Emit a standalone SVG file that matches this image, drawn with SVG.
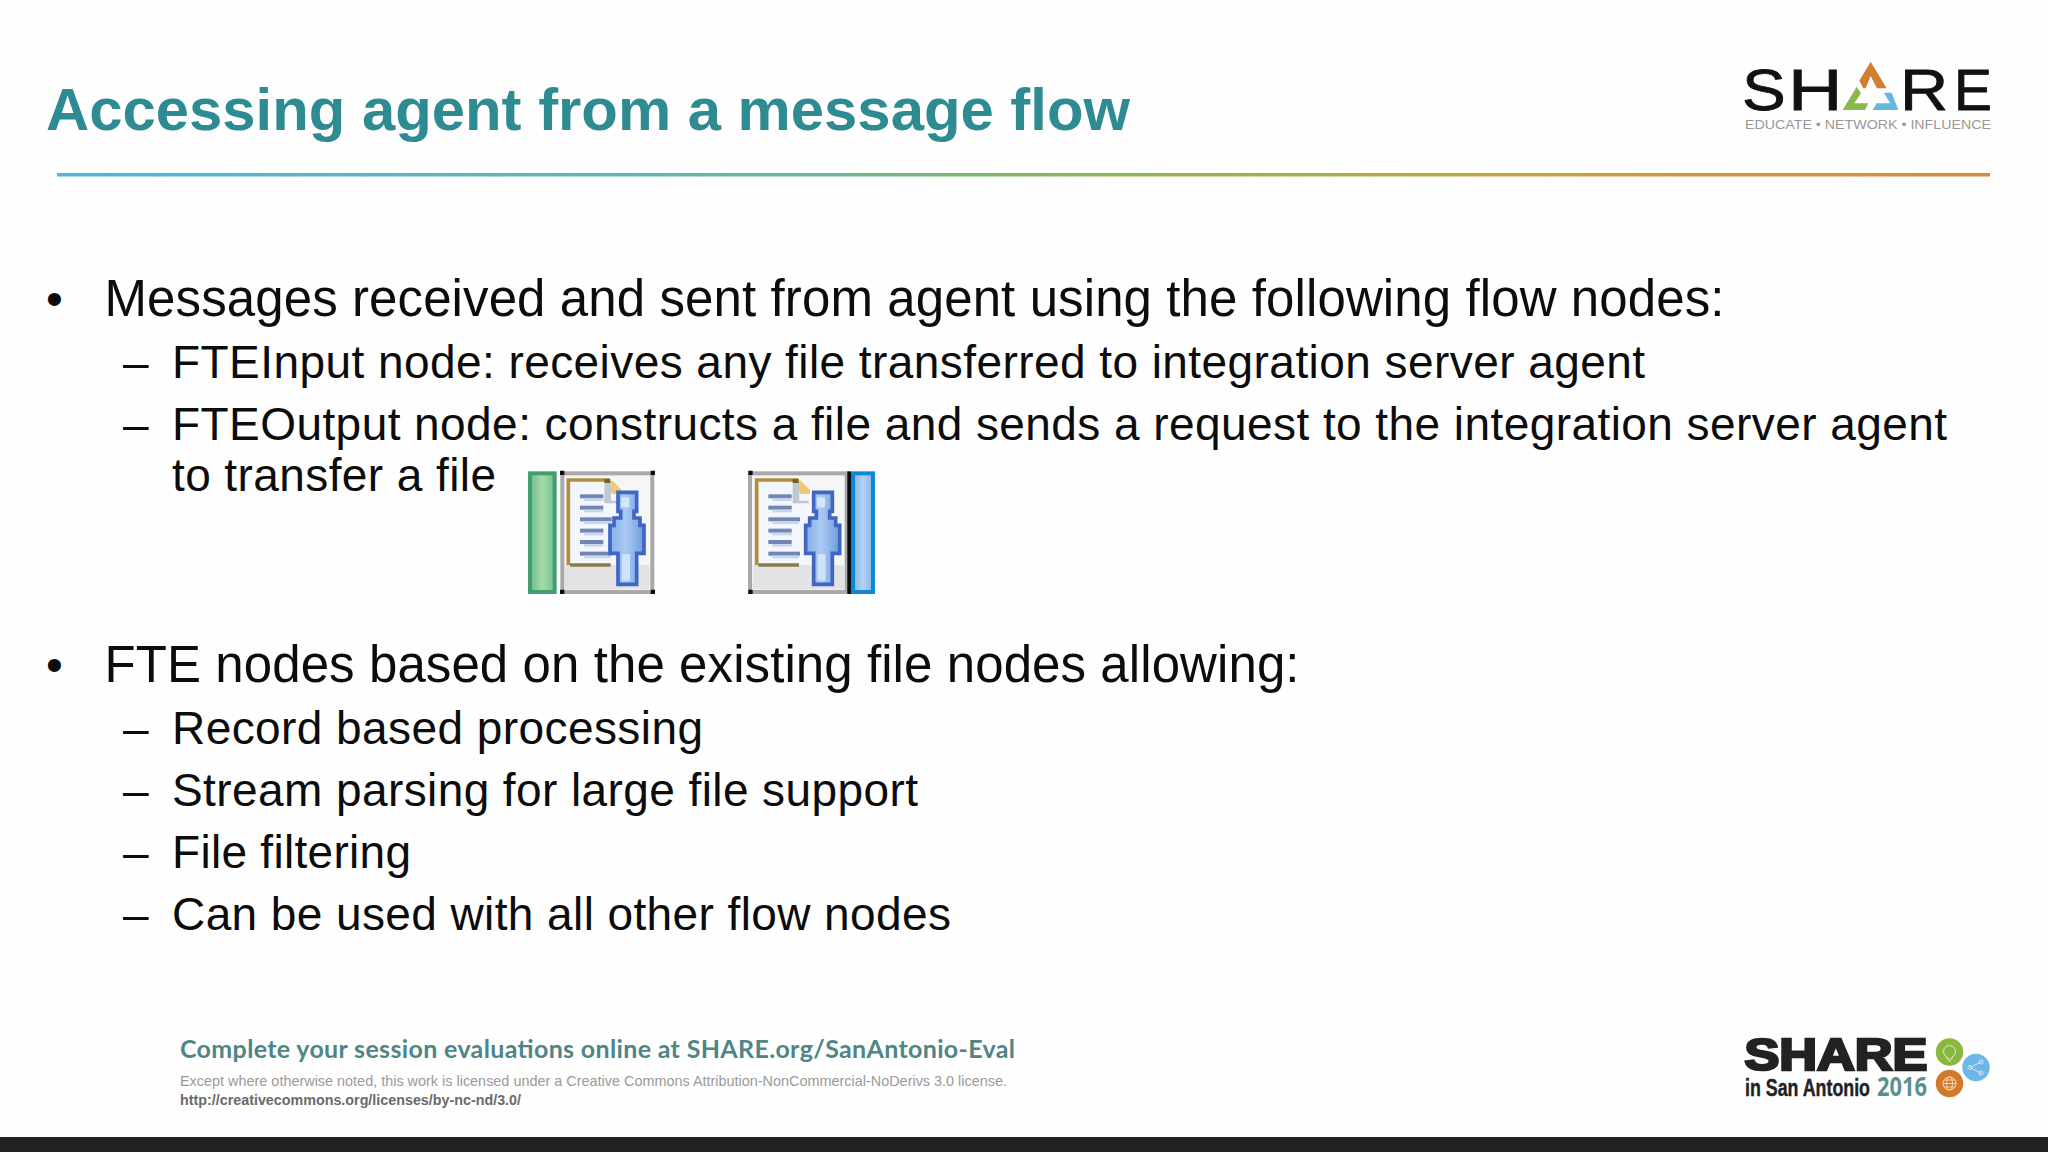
<svg xmlns="http://www.w3.org/2000/svg" width="2048" height="1152" viewBox="0 0 2048 1152">
<style>
text{font-family:"Liberation Sans",Arial,sans-serif}
.t1{font-size:51px;fill:#0c0c0c}
.t2{font-size:46px;fill:#0c0c0c}
.ln{fill:#6f86b4}
.ls{fill:#c9d6ea}
.lg{font-size:58px;fill:#111;stroke:#111;stroke-width:.8px}
</style>
<defs>
<linearGradient id="rule" x1="0" x2="1" y1="0" y2="0">
<stop offset="0" stop-color="#4eb5dc"/><stop offset=".35" stop-color="#62b6a8"/><stop offset=".55" stop-color="#8fb84f"/><stop offset=".75" stop-color="#c4a343"/><stop offset="1" stop-color="#e0873a"/>
</linearGradient>
<linearGradient id="pf" x1="0" x2="1" y1="0" y2="0">
<stop offset="0" stop-color="#86aeea"/><stop offset=".45" stop-color="#a9caf3"/><stop offset="1" stop-color="#6f9ce0"/>
</linearGradient>
<linearGradient id="bar1" x1="0" x2="1" y1="0" y2="0">
<stop offset="0" stop-color="#6cbb8a"/><stop offset=".5" stop-color="#a6dcab"/><stop offset="1" stop-color="#72c08e"/>
</linearGradient>
<linearGradient id="bar2" x1="0" x2="1" y1="0" y2="0">
<stop offset="0" stop-color="#7fb4e8"/><stop offset=".5" stop-color="#b4d3f4"/><stop offset="1" stop-color="#86b6e8"/>
</linearGradient>
<filter id="soft" x="-5%" y="-5%" width="110%" height="110%"><feGaussianBlur stdDeviation=".5"/></filter>
<g id="page">
<path d="M175 90H300L330 120V345H175Z" fill="#f3f6fc"/>
<path d="M175 345V90H300" fill="none" stroke="#b08e3c" stroke-width="11"/>
<path d="M180 345H302" stroke="#8a7a50" stroke-width="10"/>
<path d="M283 92h25l27 28v12h-27z" fill="#f0c878"/>
<path d="M283 87h18v12h-18z" fill="#7a5e28"/>
<path d="M283 100h20v52h28v8h-48z" fill="#c2c8d0"/>
<rect class="ln" x="210" y="133" width="70" height="12"/><rect class="ls" x="222" y="145" width="58" height="8"/>
<rect class="ln" x="210" y="167" width="70" height="12"/><rect class="ls" x="222" y="179" width="58" height="8"/>
<rect class="ln" x="210" y="202" width="95" height="12"/><rect class="ls" x="222" y="214" width="80" height="8"/>
<rect class="ln" x="210" y="236" width="70" height="12"/><rect class="ls" x="222" y="248" width="58" height="8"/>
<rect class="ln" x="210" y="270" width="70" height="12"/><rect class="ls" x="222" y="282" width="58" height="8"/>
<rect class="ln" x="210" y="305" width="95" height="12"/><rect class="ls" x="222" y="317" width="80" height="8"/>
</g>
<g id="person">
<path d="M324 127H380V184H372V204H390V226H402V310H380V403H324V310H300V226H312V204H332V184H324Z" fill="url(#pf)" stroke="#3f66c4" stroke-width="11"/>
<rect x="336" y="312" width="24" height="80" fill="#cfe2f9"/>
<rect x="334" y="142" width="24" height="30" fill="#d6e6fa"/>
</g>
</defs>
<rect width="2048" height="1152" fill="#fefefe"/>

<text x="46" y="130" font-size="60" font-weight="700" fill="#2f8b92" textLength="1084" lengthAdjust="spacingAndGlyphs">Accessing agent from a message flow</text>
<rect x="57" y="173" width="1933" height="3.5" fill="url(#rule)"/>

<g id="logo-top">
<text class="lg" transform="translate(1742,110) scale(1.13,1)">S</text>
<text class="lg" transform="translate(1788,110) scale(1.3,1)">H</text>
<text class="lg" transform="translate(1900,110) scale(1.15,1)">R</text>
<text class="lg" transform="translate(1954,110) scale(.98,1)">E</text>
<g transform="translate(1700,40) scale(.33333)">
<path d="M478 122L512 65L560 145H531L512 108L497 145H490Z" fill="#d17e33"/>
<path d="M428 210L470 140L483 160L463 190H505L495 210Z" fill="#88b94a"/>
<path d="M518 210L530 190H570L552 158H575L595 210Z" fill="#66b7e0"/>
</g>
<text x="1745" y="129" font-size="13" fill="#989898" textLength="246" lengthAdjust="spacingAndGlyphs">EDUCATE • NETWORK • INFLUENCE</text>
</g>

<text x="46" y="315" font-size="48" fill="#0c0c0c">•</text>
<text class="t1" x="104.500" y="316" textLength="1620">Messages received and sent from agent using the following flow nodes:</text>
<text class="t2" x="123" y="378">–</text>
<text class="t2" x="172" y="378" textLength="1473">FTEInput node: receives any file transferred to integration server agent</text>
<text class="t2" x="123" y="440">–</text>
<text class="t2" x="172" y="440" textLength="1775">FTEOutput node: constructs a file and sends a request to the integration server agent</text>
<text class="t2" x="172" y="491" textLength="324">to transfer a file</text>

<g id="fte-input" transform="translate(510,450) scale(.33333)" filter="url(#soft)">
<rect x="60" y="70" width="74" height="356" fill="url(#bar1)" stroke="#3f9e70" stroke-width="12"/>
<rect x="157" y="70" width="270" height="356" fill="#f6f6f7" stroke="#a9a9a9" stroke-width="12"/>
<rect x="165" y="345" width="254" height="73" fill="#e3e3e5"/>
<use href="#page"/>
<use href="#person"/>
<path d="M150 62h13v13h-13zM422 62h13v13h-13zM150 419h13v13h-13zM422 419h13v13h-13z" fill="#111"/>
</g>

<g id="fte-output" transform="translate(730,450) scale(.33333)" filter="url(#soft)">
<rect x="60" y="70" width="290" height="356" fill="#f6f6f7" stroke="#a9a9a9" stroke-width="12"/>
<rect x="68" y="345" width="275" height="73" fill="#e3e3e5"/>
<use href="#page" x="-95"/>
<use href="#person" x="-73"/>
<rect x="352" y="64" width="11" height="368" fill="#0a0a0a"/>
<rect x="369" y="70" width="60" height="356" fill="url(#bar2)" stroke="#1187d2" stroke-width="12"/>
<path d="M55 62h13v13h-13zM55 419h13v13h-13z" fill="#111"/>
</g>

<text x="46" y="681" font-size="48" fill="#0c0c0c">•</text>
<text class="t1" x="104.500" y="682" textLength="1195">FTE nodes based on the existing file nodes allowing:</text>
<text class="t2" x="123" y="744">–</text>
<text class="t2" x="172" y="744" textLength="531">Record based processing</text>
<text class="t2" x="123" y="806">–</text>
<text class="t2" x="172" y="806" textLength="746">Stream parsing for large file support</text>
<text class="t2" x="123" y="868">–</text>
<text class="t2" x="172" y="868" textLength="239">File filtering</text>
<text class="t2" x="123" y="930">–</text>
<text class="t2" x="172" y="930" textLength="779">Can be used with all other flow nodes</text>

<text x="180" y="1058" font-size="25" font-weight="700" fill="#4f8585" style="font-family:Lato,sans-serif" textLength="835">Complete your session evaluations online at SHARE.org/SanAntonio-Eval</text>
<text x="180" y="1086" font-size="14.5" fill="#9a9a9a" textLength="827" lengthAdjust="spacingAndGlyphs">Except where otherwise noted, this work is licensed under a Creative Commons Attribution-NonCommercial-NoDerivs 3.0 license.</text>
<text x="180" y="1105" font-size="14.5" font-weight="700" fill="#6a6a6a" textLength="341" lengthAdjust="spacingAndGlyphs">http://creativecommons.org/licenses/by-nc-nd/3.0/</text>

<g id="logo-bottom">
<text x="1744.500" y="1070" font-size="45" font-weight="700" fill="#222" stroke="#222" stroke-width="2.6" textLength="183" lengthAdjust="spacingAndGlyphs">SHARE</text>
<text x="1745" y="1096" font-size="23" font-weight="700" fill="#222" stroke="#222" stroke-width=".4" textLength="125" lengthAdjust="spacingAndGlyphs">in San Antonio</text>
<text x="1877" y="1096" font-size="27" font-weight="700" fill="#5a9090" style="font-family:'Open Sans',sans-serif" textLength="50" lengthAdjust="spacingAndGlyphs">2016</text>
<circle cx="1949.5" cy="1052" r="13.7" fill="#8ab83f"/>
<circle cx="1976" cy="1067.5" r="13.7" fill="#6cb7e6"/>
<circle cx="1949.5" cy="1083.5" r="13.7" fill="#d07a2c"/>
<g fill="none" stroke="#fff" stroke-width="1" opacity=".7">
<path d="M1947 1057a6 6 0 1 1 5 0v2h-5zM1948 1061h3"/>
<path d="M1970 1067.500L1981 1062M1970 1067.500L1981 1073"/>
<circle cx="1970" cy="1067.500" r="2"/><circle cx="1981" cy="1062" r="2"/><circle cx="1981" cy="1073" r="2"/>
<circle cx="1949.500" cy="1083.500" r="6.500"/><ellipse cx="1949.500" cy="1083.500" rx="3" ry="6.500"/><path d="M1943 1083.500h13M1944 1080h11M1944 1087h11"/>
</g>
</g>

<rect y="1137" width="2048" height="15" fill="#212123"/>
</svg>
